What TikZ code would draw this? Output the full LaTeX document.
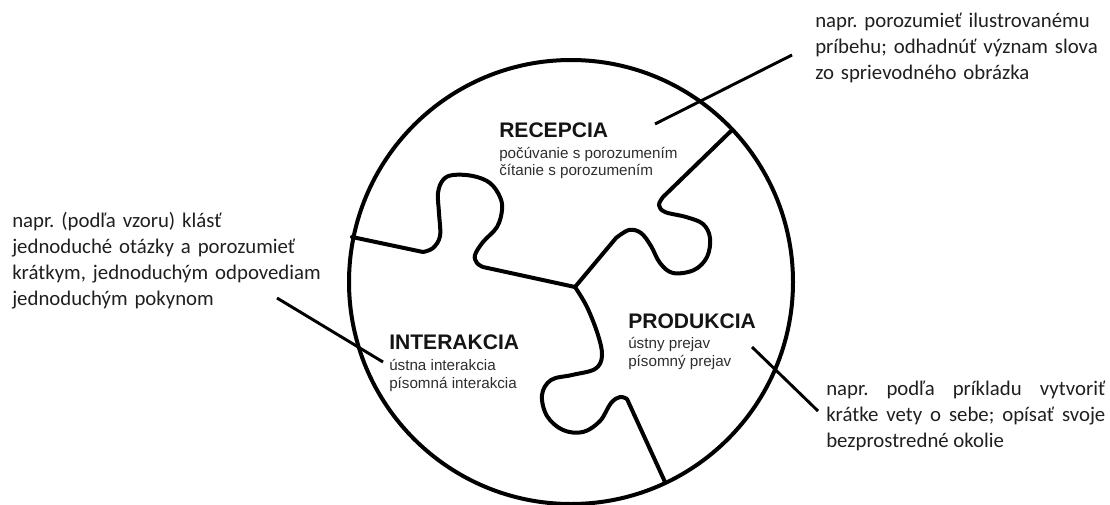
\documentclass[tikz,border=0pt]{standalone}
\usepackage{fontspec}
\setmainfont{Carlito}
\newfontfamily\arialf{Liberation Sans}
\frenchspacing
\tikzset{
  note/.style={font=\fontsize{15.6}{19.5}\selectfont, anchor=base west, inner sep=0pt, text width=240pt, align=left, text=black!88},
  ttl/.style={font=\arialf\bfseries\fontsize{15.8}{18}\selectfont, anchor=base west, inner sep=0pt, text=black!92},
  sub/.style={font=\arialf\fontsize{11.4}{13.5}\selectfont, anchor=base west, inner sep=0pt, text=black!82},
  edgeline/.style={line width=3pt, line join=round, line cap=round},
  conn/.style={line width=2.2pt}
}
\begin{document}
\begin{tikzpicture}[x=0.75pt,y=-0.75pt]
\useasboundingbox (0,0) rectangle (1110,504);
% circle
\node[draw, line width=3pt, circle, minimum size=333pt, inner sep=0pt] (circ) at (571,282) {};
% junction and boundary points
\coordinate (J) at (575,287);
\coordinate (cl) at (352,237);
\coordinate (ctr) at (732,130);
\coordinate (cb) at (665,482);
% left boundary
\draw[edgeline] (cl) -- (423,252)
  plot[smooth, tension=0.6] coordinates {(423,252) (433,248) (440,236) (439,213) (438,193) (443,180) (453,175) (473,176) (490,183) (500,197) (502,210) (497,227) (483,242) (475,255) (477,263) (483,267)}
  -- (J);
% right boundary
\draw[edgeline] (ctr) -- (663,197)
  plot[smooth, tension=0.6] coordinates {(663,197) (659,205) (665,212) (686,217) (703,224) (710,238) (707,257) (694,270) (673,273) (660,263) (651,246) (641,233) (629,230) (616,238)}
  -- (J);
% bottom boundary
\draw[edgeline] (J)
  plot[smooth, tension=0.6] coordinates {(J) (587,307) (598,335) (602,356) (595,369) (572,375) (551,380) (542,395) (547,416) (563,430) (583,432) (600,421) (611,403) (620,397) (627,399)}
  -- (cb);
% titles
\node[ttl] (rec) at (499,137) {RECEPCIA};
\node[sub] (recs1) at (499,158) {počúvanie s porozumením};
\node[sub] (recs2) at (499,175.5) {čítanie s porozumením};
\node[ttl] (pro) at (628,328) {PRODUKCIA};
\node[sub] (pros1) at (628,348.5) {ústny prejav};
\node[sub] (pros2) at (628,366.5) {písomný prejav};
\node[ttl] (int) at (389,349) {INTERAKCIA};
\node[sub] (ints1) at (389,370) {ústna interakcia};
\node[sub] (ints2) at (389,388) {písomná interakcia};
% annotations
\node[note] (ntr) at (815,27) {napr. porozumieť ilustrovanému\\príbehu; odhadnúť význam slova\\zo sprievodného obrázka};
\node[note] (nl) at (12,227) {napr. (podľa vzoru) klásť\\jednoduché otázky a porozumieť\\krátkym, jednoduchým odpovediam\\jednoduchým pokynom};
\node[note, text width=209.25pt, align=justify] (nbr) at (826,395) {napr. podľa príkladu vytvoriť\linebreak krátke vety o~sebe; opísať svoje\linebreak bezprostredné okolie};
% connectors
\coordinate (a1) at (655,124);
\coordinate (a2) at (792,55);
\coordinate (b1) at (277,298);
\coordinate (b2) at (383,362);
\coordinate (d1) at (752,347);
\coordinate (d2) at (818,411);
\draw[conn] (a1) -- (a2);
\draw[conn] (b1) -- (b2);
\draw[conn] (d1) -- (d2);
\end{tikzpicture}
\end{document}
